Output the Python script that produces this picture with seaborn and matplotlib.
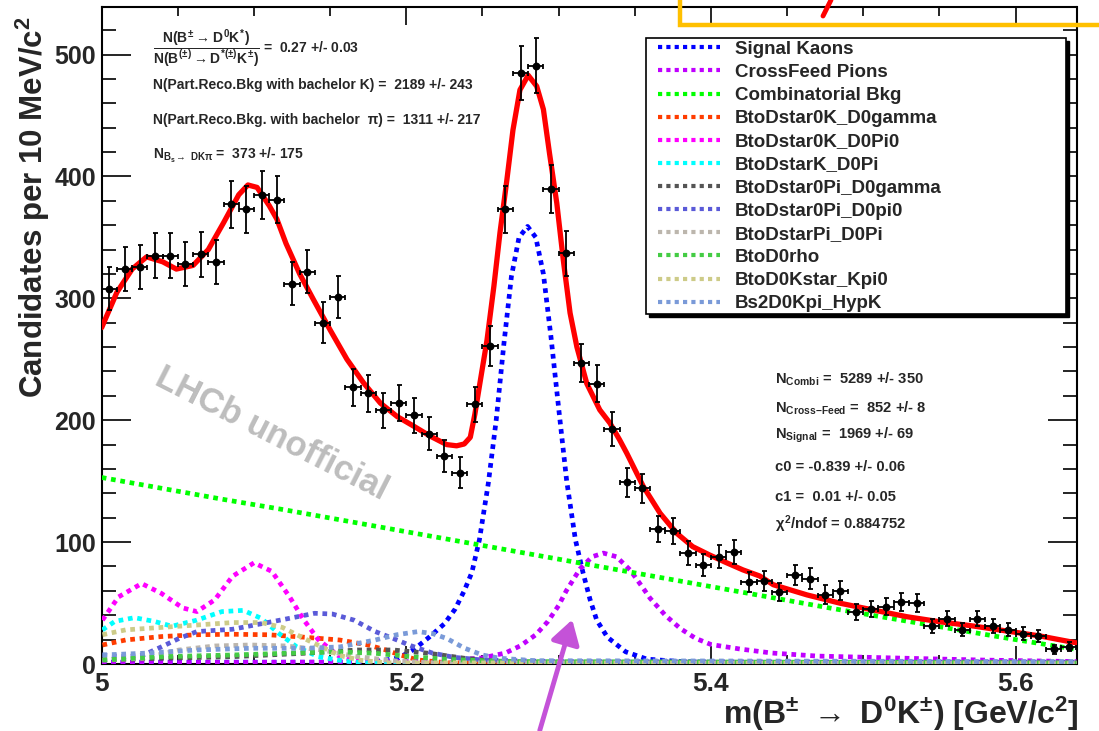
import numpy as np
import pandas as pd
import matplotlib
matplotlib.use("Agg")
import matplotlib.pyplot as plt
import seaborn as sns
from matplotlib.lines import Line2D
from matplotlib.patches import Rectangle, FancyArrowPatch

# ---------------- data histogram: 10 MeV bins from 5.00 to 5.64 GeV ----------------
mass_lo, mass_hi, bin_width = 5.0, 5.64, 0.01
counts = [308, 324, 326, 335, 335, 328, 336, 330, 377, 373, 385, 381, 312, 322,
          280, 301, 227, 222, 208, 214, 204, 189, 171, 157, 213, 261, 373, 485,
          491, 390, 337, 247, 230, 193, 149, 144, 111, 109, 91, 81, 88, 92, 67,
          68, 59, 73, 70, 57, 60, 43, 45, 47, 51, 50, 31, 37, 28, 37, 31, 28, 25,
          23, 12, 14]

# ---------------- fit model curves (mass in GeV, candidates per bin) ----------------
total_m = [5.000, 5.010, 5.020, 5.0295, 5.040, 5.049, 5.060, 5.070, 5.080, 5.090,
           5.096, 5.102, 5.110, 5.115, 5.121, 5.130, 5.139, 5.150, 5.161, 5.172,
           5.183, 5.194, 5.205, 5.2156, 5.2265, 5.233, 5.238, 5.242, 5.245, 5.248,
           5.253, 5.2575, 5.2615, 5.266, 5.270, 5.2746, 5.280, 5.2856, 5.290, 5.294,
           5.2988, 5.303, 5.3075, 5.312, 5.3185, 5.327, 5.3337, 5.340, 5.3447,
           5.3556, 5.3666, 5.3775, 5.388, 5.399, 5.410, 5.421, 5.432, 5.441, 5.463,
           5.485, 5.5066, 5.5286, 5.550, 5.572, 5.594, 5.616, 5.640]
total_v = [276, 305, 324, 334, 330, 324, 327, 340, 362, 385, 393, 391, 376, 365,
           345, 320, 299, 274, 250, 230.5, 214, 203, 195, 187, 180, 179, 180.5, 186,
           205, 228, 266, 310, 354, 397, 438, 471, 483, 474, 455, 419, 378, 332, 288,
           260, 230, 208.5, 197.6, 184, 173, 145.6, 123.7, 107.3, 96.3, 89.5, 83.2,
           77.2, 72.2, 65, 56.7, 49.8, 44.3, 38.8, 34.7, 31.2, 27.1, 23, 17.3]

signal_m = [5.000, 5.150, 5.180, 5.195, 5.205, 5.215, 5.225, 5.232, 5.238, 5.243,
            5.248, 5.2538, 5.259, 5.264, 5.269, 5.274, 5.2796, 5.285, 5.290, 5.295,
            5.300, 5.3053, 5.311, 5.316, 5.3206, 5.325, 5.332, 5.344, 5.358, 5.380,
            5.420, 5.640]
signal_v = [1.5, 1.5, 2, 5, 12, 22, 33, 45, 60, 75, 102, 148, 200, 262, 318, 350,
            359, 350, 320, 268, 210, 150, 102, 75, 53, 36, 22, 10, 4, 2, 1, 0.5]

xfeed_m = [5.000, 5.150, 5.200, 5.230, 5.250, 5.265, 5.275, 5.285, 5.293, 5.300,
           5.305, 5.314, 5.322, 5.3294, 5.338, 5.347, 5.3556, 5.360, 5.370, 5.380,
           5.390, 5.400, 5.419, 5.440, 5.470, 5.5286, 5.580, 5.640]
xfeed_v = [1, 1.5, 2, 3, 5, 9, 15, 24, 35, 48, 60, 78, 88, 91, 88, 77, 62, 54, 40,
           29, 21, 16, 12.3, 9, 6.5, 4.7, 3.2, 2]

combi_m = [5.00, 5.04, 5.08, 5.12, 5.16, 5.20, 5.24, 5.28, 5.32, 5.36, 5.40, 5.44,
           5.48, 5.52, 5.56, 5.60, 5.64]
combi_v = [153, 144, 135, 126.5, 117.5, 108.5, 99.5, 90.5, 81.5, 72.5, 63.5, 54.5,
           45.5, 37, 28.5, 20, 12]

d0gamma_k_m = [5.0005, 5.0157, 5.0391, 5.0625, 5.0859, 5.1094, 5.1328, 5.1562,
               5.1749, 5.1866, 5.196, 5.2077, 5.2265, 5.640]
d0gamma_k_v = [15.6, 19.7, 22.5, 24, 24.4, 24, 22, 19.7, 15.6, 11.5, 7.4, 3.3, 1, 0.3]

d0pi0_k_m = [5.0005, 5.011, 5.0262, 5.0391, 5.0532, 5.0625, 5.0742, 5.0859, 5.100,
             5.1117, 5.1234, 5.1328, 5.1422, 5.1562, 5.1703, 5.200, 5.640]
d0pi0_k_v = [36, 55, 66, 58, 46, 43, 52.6, 72, 83, 76, 55, 36, 20, 6, 2, 1, 0.5]

d0pi_k_m = [5.0005, 5.0087, 5.0215, 5.0344, 5.0461, 5.0625, 5.0789, 5.093, 5.1047,
            5.1164, 5.1281, 5.1422, 5.1562, 5.1703, 5.200, 5.640]
d0pi_k_v = [28, 35, 38, 35, 31, 36, 43, 44, 37.5, 25, 14, 6, 3, 1, 0.5, 0.3]

d0gamma_pi_m = [5.0005, 5.0391, 5.0859, 5.1328, 5.1679, 5.1913, 5.2148, 5.2382,
                5.2616, 5.300, 5.640]
d0gamma_pi_v = [3.3, 4.7, 6, 8.8, 11.5, 11.5, 8.8, 4.7, 2, 1, 0.5]

d0pi0_pi_m = [5.0005, 5.0157, 5.0274, 5.0391, 5.0508, 5.0625, 5.0859, 5.1047,
              5.1234, 5.1398, 5.1515, 5.1656, 5.1796, 5.1913, 5.203, 5.2171, 5.2311,
              5.2499, 5.2733, 5.2967, 5.640]
d0pi0_pi_v = [7.4, 6, 7.4, 14, 21, 26.6, 28.5, 33, 37.5, 41.6, 41, 36, 26.6, 21, 15,
              9, 5.5, 3.3, 2.7, 2, 1.5]

d0pi_pi_m = [5.0005, 5.0274, 5.0508, 5.0742, 5.0977, 5.1211, 5.1445, 5.1679,
             5.1913, 5.2148, 5.640]
d0pi_pi_v = [3.3, 4.7, 11.5, 14.8, 15.6, 14.8, 11.5, 6, 2.7, 1, 0.3]

d0rho_m = [5.0005, 5.0391, 5.0859, 5.1328, 5.1562, 5.1796, 5.203, 5.2265, 5.2499,
           5.2733, 5.640]
d0rho_v = [3.3, 6, 7.4, 9.3, 10, 8.8, 6, 3.8, 2.7, 2, 1]

kstar_m = [5.0005, 5.0157, 5.0391, 5.0625, 5.0859, 5.1047, 5.1187, 5.1328, 5.1445,
           5.1562, 5.1703, 5.1866, 5.640]
kstar_v = [24, 28, 30, 32, 34, 34, 30, 21, 14, 7, 3, 1, 0.3]

hypk_m = [5.0005, 5.0274, 5.0625, 5.0977, 5.1328, 5.1562, 5.1796, 5.1937, 5.2077,
          5.2171, 5.2265, 5.2382, 5.2499, 5.2616, 5.285, 5.640]
hypk_v = [7.4, 8.8, 11.5, 12.9, 12.9, 14, 19.7, 24, 26.6, 25, 21, 13, 7.4, 4.7, 2.7, 2]

component_names = ["Signal Kaons", "CrossFeed Pions", "Combinatorial Bkg",
                   "BtoDstar0K_D0gamma", "BtoDstar0K_D0Pi0", "BtoDstarK_D0Pi",
                   "BtoDstar0Pi_D0gamma", "BtoDstar0Pi_D0pi0", "BtoDstarPi_D0Pi",
                   "BtoD0rho", "BtoD0Kstar_Kpi0", "Bs2D0Kpi_HypK"]
component_colors = ["#0000ff", "#c000ff", "#00ff00", "#ff3c00", "#ff00ff", "#00ffff",
                    "#555555", "#5a5ad8", "#bcb6ad", "#44cc44", "#cdcb88", "#7a9ad8"]
component_curves = [(signal_m, signal_v), (xfeed_m, xfeed_v), (combi_m, combi_v),
                    (d0gamma_k_m, d0gamma_k_v), (d0pi0_k_m, d0pi0_k_v),
                    (d0pi_k_m, d0pi_k_v), (d0gamma_pi_m, d0gamma_pi_v),
                    (d0pi0_pi_m, d0pi0_pi_v), (d0pi_pi_m, d0pi_pi_v),
                    (d0rho_m, d0rho_v), (kstar_m, kstar_v), (hypk_m, hypk_v)]

x_tick_values = [5.0, 5.2, 5.4, 5.6]
x_tick_labels = ["5", "5.2", "5.4", "5.6"]
y_tick_values = [0, 100, 200, 300, 400, 500]

# ---------------- style ----------------
sns.set_theme(style="ticks")
plt.rcParams["font.family"] = ["Liberation Sans", "DejaVu Sans"]
plt.rcParams["font.weight"] = "bold"
plt.rcParams["mathtext.fontset"] = "custom"
plt.rcParams["mathtext.rm"] = "Liberation Sans:bold"
plt.rcParams["mathtext.it"] = "Liberation Sans:bold"
plt.rcParams["mathtext.bf"] = "Liberation Sans:bold"
plt.rcParams["mathtext.sf"] = "Liberation Sans:bold"

W, H = 1099, 731


def fx(px):
    return px / W


def fy(py):
    return 1 - py / H


fig = plt.figure(figsize=(W / 100, H / 100), dpi=100)
fig.patch.set_facecolor("white")
ax = fig.add_axes([fx(101.7), fy(664), fx(1076.5) - fx(101.7), fy(7) - fy(664)])
ax.set_facecolor("white")

DOT = (0, (1.0, 1.0))

# components
df_parts = []
for name, (mm, vv) in zip(component_names, component_curves):
    df_parts.append(pd.DataFrame({"mass": mm, "yield": vv, "component": name}))
curves = pd.concat(df_parts, ignore_index=True)

draw_order = list(range(3, 12)) + [2, 1, 0]
for i in draw_order:
    sub = curves[curves["component"] == component_names[i]]
    sns.lineplot(data=sub, x="mass", y="yield", ax=ax, color=component_colors[i],
                 lw=3.4, linestyle=DOT, sort=False, estimator=None, zorder=3 + 0.01 * i)

# total fit
sns.lineplot(x=total_m, y=total_v, ax=ax, color="#ff0000", lw=3.8, sort=False,
             estimator=None, zorder=5)

# data points
centers = mass_lo + bin_width / 2 + bin_width * np.arange(len(counts))
counts_arr = np.asarray(counts, dtype=float)
ax.errorbar(centers, counts_arr, xerr=bin_width / 2, yerr=np.sqrt(counts_arr),
            fmt="none", ecolor="black", elinewidth=1.3, capsize=1.8, capthick=1.3,
            zorder=6)
sns.scatterplot(x=centers, y=counts_arr, ax=ax, color="black", s=32, linewidth=0,
                zorder=7)

ax.set_xlim(mass_lo, mass_hi)
ax.set_ylim(0, 539)
ax.set_xlabel("")
ax.set_ylabel("")
ax.set_xticks(x_tick_values, labels=x_tick_labels)
ax.set_yticks(y_tick_values)
ax.xaxis.set_minor_locator(matplotlib.ticker.MultipleLocator(0.05))
ax.yaxis.set_minor_locator(matplotlib.ticker.MultipleLocator(20))
ax.tick_params(which="both", direction="in", top=True, right=True, width=1.2,
               color="black")
ax.tick_params(axis="y", which="major", length=21, labelsize=18, pad=4)
ax.tick_params(axis="y", which="minor", length=10)
ax.tick_params(axis="x", which="major", length=13, labelsize=19, pad=6)
ax.tick_params(axis="x", which="minor", length=6.5)
for lab in ax.get_xticklabels() + ax.get_yticklabels():
    lab.set_fontweight("bold")
for sp in ax.spines.values():
    sp.set_linewidth(1.5)
    sp.set_color("black")
    sp.set_visible(True)

# axis titles
fig.text(fx(33), fy(16), r"Candidates per 10 MeV/c$^{2}$", rotation=90,
         ha="center", va="top", fontsize=22.5, fontweight="bold")
fig.text(fx(1078), fy(724), r"m(B$^{\pm}$ $\rightarrow$ D$^{0}$K$^{\pm}$) [GeV/c$^{2}$]",
         ha="right", va="baseline", fontsize=23, fontweight="bold")

# legend box with shadow
lx0, ly0, lx1, ly1 = 646, 38, 1066, 314
fig.add_artist(Rectangle((fx(lx0 + 3), fy(ly1 + 3)), fx(lx1 - lx0), fy(ly0) - fy(ly1),
                         transform=fig.transFigure, facecolor="black",
                         edgecolor="black", zorder=8))
fig.add_artist(Rectangle((fx(lx0), fy(ly1)), fx(lx1 - lx0), fy(ly0) - fy(ly1),
                         transform=fig.transFigure, facecolor="white",
                         edgecolor="black", lw=1.2, zorder=9))
handles = [Line2D([], [], color=c, lw=3.0, linestyle=DOT) for c in component_colors]
leg = fig.legend(handles, component_names, loc="upper left",
                 bbox_to_anchor=(fx(654), fy(37)), bbox_transform=fig.transFigure,
                 frameon=False, fontsize=13.5, handlelength=3.3, handletextpad=0.8,
                 labelspacing=0.32, borderpad=0.2, borderaxespad=0)
leg.set_zorder(10)
for t in leg.get_texts():
    t.set_fontweight("bold")

# fit-result annotations
small = dict(fontsize=10, fontweight="bold", va="center", ha="left")
fig.text(fx(153), fy(49),
         r"$\dfrac{N(B^{\pm}\rightarrow D^{0}K^{*})}{N(B^{(\pm)}\rightarrow D^{*(\pm)}K^{\pm})}$ =  0.27 +/- 0.03",
         **small)
fig.text(fx(153), fy(85), "N(Part.Reco.Bkg with bachelor K) =  2189 +/- 243", **small)
fig.text(fx(153), fy(120), "N(Part.Reco.Bkg. with bachelor  \u03c0) =  1311 +/- 217", **small)
fig.text(fx(153), fy(155), r"N$_{B_{s}\rightarrow\ DK\pi}$ =  373 +/- 175", **small)

right = dict(fontsize=10.6, fontweight="bold", va="center", ha="left")
fig.text(fx(775), fy(379), r"N$_{Combi}$ =  5289 +/- 350", **right)
fig.text(fx(775), fy(408), r"N$_{Cross{-}Feed}$ =  852 +/- 8", **right)
fig.text(fx(775), fy(435), r"N$_{Signal}$ =  1969 +/- 69", **right)
fig.text(fx(775), fy(467), "c0 = -0.839 +/- 0.06", **right)
fig.text(fx(775), fy(497), "c1 =  0.01 +/- 0.05", **right)
fig.text(fx(775), fy(524), r"$\chi^{2}$/ndof = 0.884752", **right)

# watermark
fig.text(fx(272), fy(434), "LHCb unofficial", rotation=-27, color="#bdbdbd",
         fontsize=25, fontweight="bold", ha="center", va="center",
         rotation_mode="anchor")

# overlay markings
fig.add_artist(Line2D([fx(680), fx(680), fx(1099)], [fy(0), fy(25), fy(25)],
                      transform=fig.transFigure, color="#ffc000", lw=3.2,
                      solid_joinstyle="miter", zorder=12))
fig.add_artist(Line2D([fx(831), fx(823)], [fy(0), fy(16)], transform=fig.transFigure,
                      color="#ff0000", lw=3.5, zorder=12))
fig.add_artist(FancyArrowPatch((fx(539), fy(733)), (fx(573), fy(617)),
                               transform=fig.transFigure,
                               arrowstyle="-|>,head_length=0.9,head_width=0.55",
                               mutation_scale=16, color="#c452d8", lw=3.5, zorder=12))

fig.savefig("out.png", dpi=100, facecolor="white")
